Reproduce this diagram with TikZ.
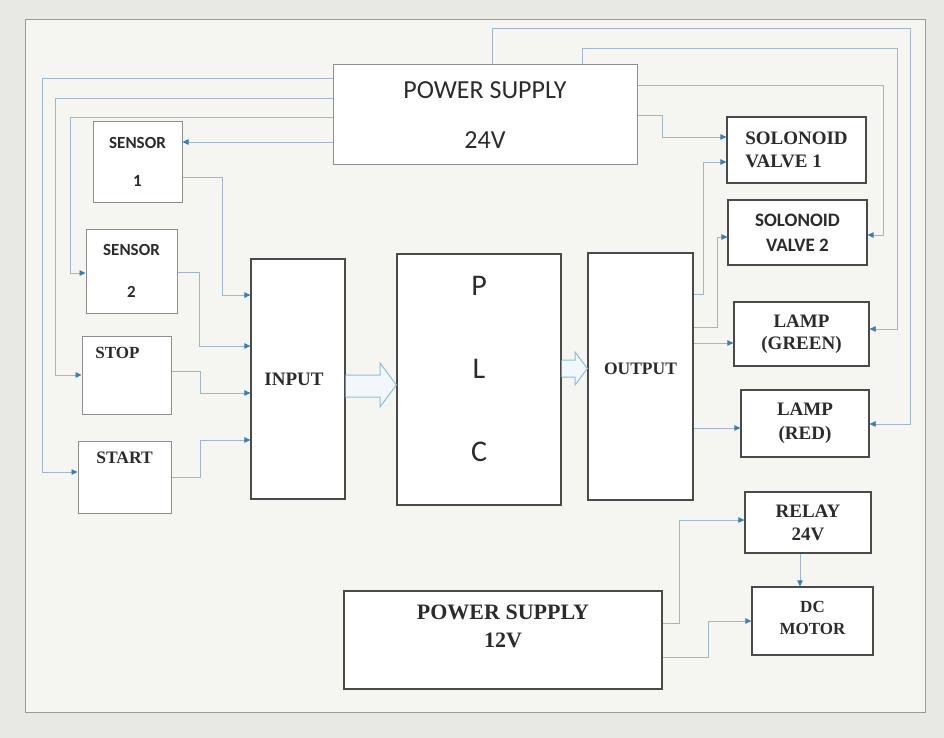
\documentclass[tikz,border=0pt]{standalone}
\usepackage{fontspec}
\setmainfont{Liberation Serif}
\newfontfamily\calfont{Carlito}
\usetikzlibrary{arrows.meta,calc}
\definecolor{paper}{HTML}{E8E8E4}
\definecolor{screen}{HTML}{F5F5F2}
\definecolor{rim}{HTML}{9A9A98}
\definecolor{edgedark}{HTML}{4A4A4A}
\definecolor{edgelight}{HTML}{8E8E8E}
\definecolor{wireblue}{HTML}{A3B5C8}
\definecolor{tipblue}{HTML}{3C7DB4}
\definecolor{hollowblue}{HTML}{8CBFDB}
\definecolor{ink}{HTML}{2B2B2B}
\tikzset{
  unitbox/.style={
    rectangle, draw=edgedark, fill=white, line width=1.3pt,
    text=ink, font=\bfseries\fontsize{18}{23}\selectfont,
    align=center, inner sep=0pt
  },
  lightbox/.style={
    rectangle, draw=edgelight, fill=white, line width=1pt,
    text=ink, font=\calfont\bfseries\fontsize{16}{40}\selectfont,
    align=center, inner sep=0pt
  },
  boxsize/.style 2 args={minimum width=#1pt, minimum height=#2pt},
  feedwire/.style={
    draw=wireblue, line width=0.8pt,
    -{Triangle[length=6pt,width=5.5pt,color=tipblue]}
  },
  bigarrow/.style={draw=hollowblue, fill=hollowblue!12, line width=1pt,
    line join=miter},
}
\begin{document}
\begin{tikzpicture}[x=1pt,y=-1pt]
  \useasboundingbox (0,0) rectangle (944,738);
  \fill[paper] (0,0) rectangle (944,738);
  \draw[rim, fill=screen, line width=1pt] (25,20) rectangle (925,712);

  % supply and field devices
  \node[lightbox, boxsize={304}{100}, font=\calfont\fontsize{26}{50}\selectfont]
    (ps24) at (485,115) {POWER SUPPLY\\24V};
  \node[lightbox, boxsize={89}{80}, font=\calfont\bfseries\fontsize{17}{38}\selectfont]
    (s1) at (137.5,162) {SENSOR\\1};
  \node[lightbox, boxsize={91}{84}, font=\calfont\bfseries\fontsize{17}{42}\selectfont]
    (s2) at (131.5,271) {SENSOR\\2};
  \node[lightbox, boxsize={89}{78}, font=\bfseries\fontsize{17}{20}\selectfont,
    text height=11pt, text depth=44pt] (stop) at (126.5,375) {STOP\hspace*{18pt}};
  \node[lightbox, boxsize={93}{72}, font=\bfseries\fontsize{17.5}{20}\selectfont,
    text height=11pt, text depth=38pt] (start) at (124.5,477) {START};

  % controller
  \node[unitbox, boxsize={94}{240}, font=\bfseries\fontsize{19}{20}\selectfont]
    (inp) at (298,379) {INPUT\hspace*{8pt}};
  \node[unitbox, boxsize={164}{251}, font=\calfont\fontsize{30}{83}\selectfont,
    text depth=22pt] (plc) at (479,379.5) {P\\L\\C};
  \node[unitbox, boxsize={105}{247}, font=\bfseries\fontsize{17.5}{20}\selectfont,
    text height=11pt, text depth=16pt] (outp) at (640.5,376.5) {OUTPUT};

  % actuators
  \node[unitbox, boxsize={139}{66}, align=left, font=\bfseries\fontsize{19}{23}\selectfont]
    (v1) at (796.5,150) {SOLONOID\\VALVE 1};
  \node[unitbox, boxsize={139}{65}, line width=1.2pt,
    font=\calfont\bfseries\fontsize{19}{25}\selectfont]
    (v2) at (797.5,232.5) {SOLONOID\\VALVE 2};
  \node[unitbox, boxsize={135}{64}, font=\bfseries\fontsize{19}{22}\selectfont]
    (lg) at (801.5,334) {LAMP\\(GREEN)};
  \node[unitbox, boxsize={128}{67}, font=\bfseries\fontsize{19}{24}\selectfont]
    (lr) at (805,423.5) {LAMP\\(RED)};
  \node[unitbox, boxsize={126}{61}, font=\bfseries\fontsize{19}{23}\selectfont]
    (relay) at (808,522.5) {RELAY\\24V};
  \node[unitbox, boxsize={121}{68}, font=\bfseries\fontsize{17}{22}\selectfont,
    text depth=6pt] (dc) at (812.5,621) {DC\\MOTOR};
  \node[unitbox, boxsize={318}{98}, font=\bfseries\fontsize{22}{28}\selectfont,
    text depth=28pt] (ps12) at (503,640) {POWER SUPPLY\\12V};

  % 24V feeds, left side
  \draw[feedwire] (ps24.west |- 0,78) -- (42,78) |- (start.west |- 0,472);
  \draw[feedwire] (ps24.west |- 0,98) -- (55,98) |- (stop.west |- 0,375);
  \draw[feedwire] (ps24.west |- 0,117) -- (70,117) |- (s2.west |- 0,273);
  \draw[feedwire] (ps24.west |- 0,142) -- (s1.east |- 0,142);

  % inputs
  \draw[feedwire] (s1.east |- 0,177) -- (222,177) |- (inp.west |- 0,295);
  \draw[feedwire] (s2.east |- 0,272) -- (199,272) |- (inp.west |- 0,346);
  \draw[feedwire] (stop.east |- 0,371) -- (200,371) |- (inp.west |- 0,393);
  \draw[feedwire] (start.east |- 0,477) -- (200,477) |- (inp.west |- 0,440);

  % 24V feeds, right side
  \draw[feedwire] (ps24.north -| 492,0) -- (492,28) -- (910,28) |- (lr.east |- 0,424);
  \draw[feedwire] (ps24.north -| 582,0) -- (582,48) -- (897,48) |- (lg.east |- 0,329);
  \draw[feedwire] (ps24.east |- 0,85) -- (883,85) |- (v2.east |- 0,235);
  \draw[feedwire] (ps24.east |- 0,115) -- (662,115) |- (v1.west |- 0,137);

  % outputs
  \draw[feedwire] (outp.east |- 0,294) -- (703,294) |- (v1.west |- 0,162);
  \draw[feedwire] (outp.east |- 0,327) -- (717,327) |- (v2.west |- 0,237);
  \draw[feedwire] (outp.east |- 0,343) -- (lg.west |- 0,343);
  \draw[feedwire] (outp.east |- 0,428) -- (lr.west |- 0,428);

  % 12V side
  \draw[feedwire] (ps12.east |- 0,623) -- (679,623) |- (relay.west |- 0,520);
  \draw[feedwire] (ps12.east |- 0,657) -- (708,657) |- (dc.west |- 0,621);
  \draw[feedwire] (relay.south -| 800,0) -- (dc.north -| 800,0);

  % data flow
  \draw[bigarrow] (inp.east |- 0,375) -- (380,375) -- (380,363) -- (plc.west |- 0,385)
    -- (380,407) -- (380,397) -- (inp.east |- 0,397);
  \draw[bigarrow] (plc.east |- 0,360) -- (575,360) -- (575,352) -- (outp.west |- 0,368.5)
    -- (575,385) -- (575,377) -- (plc.east |- 0,377);
\end{tikzpicture}
\end{document}
